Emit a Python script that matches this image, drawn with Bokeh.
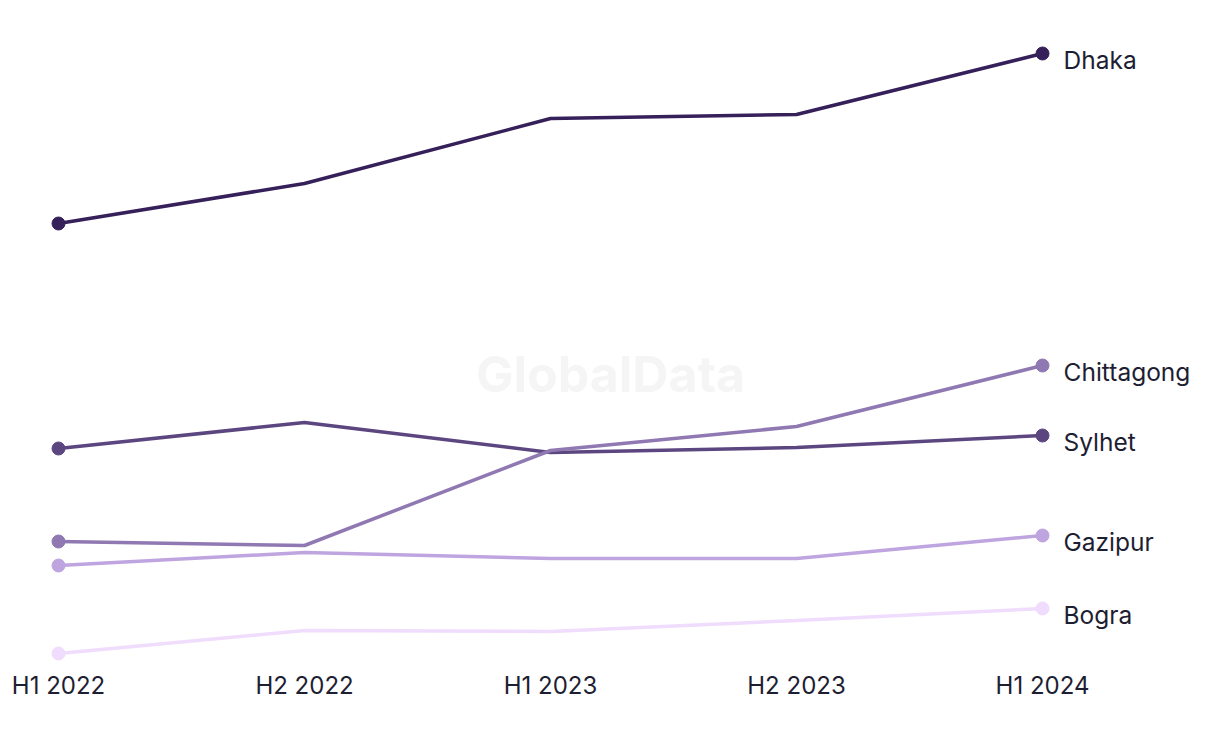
from bokeh.plotting import figure
from bokeh.models import ColumnDataSource, Range1d, Label, FixedTicker
from bokeh.core.properties import value
from bokeh.embed import file_html
from bokeh.resources import INLINE

periods = ["H1 2022", "H2 2022", "H1 2023", "H2 2023", "H1 2024"]
cities = ["Dhaka", "Sylhet", "Chittagong", "Gazipur", "Bogra"]
dhaka = [45.7, 49.7, 56.2, 56.6, 62.7]
sylhet = [23.2, 25.8, 22.8, 23.3, 24.5]
chittagong = [13.9, 13.5, 23.0, 25.4, 31.5]
gazipur = [11.5, 12.8, 12.2, 12.2, 14.5]
bogra = [2.7, 5.0, 4.9, 6.0, 7.2]
series = [dhaka, sylhet, chittagong, gazipur, bogra]
colors = ["#36205a", "#5c4680", "#9078b2", "#bfa5e0", "#f0dcfc"]

FONT = "Inter"
TEXT = "#1e1e32"

xs = list(range(len(periods)))

p = figure(width=1212, height=736, output_backend="svg", toolbar_location=None,
           x_range=Range1d(-0.2033, 4.691), y_range=Range1d(1.5, 67.2),
           min_border_left=8, min_border_right=0, min_border_top=8,
           min_border_bottom=71)
p.outline_line_color = None
p.grid.visible = False
p.yaxis.visible = False
p.background_fill_color = "white"
p.border_fill_color = "white"

ax = p.xaxis[0]
ax.ticker = FixedTicker(ticks=xs)
ax.major_label_overrides = {i: lab for i, lab in enumerate(periods)}
ax.axis_line_color = None
ax.major_tick_line_color = None
ax.minor_tick_line_color = None
ax.major_tick_out = 0
ax.major_tick_in = 0
ax.major_label_standoff = 5
ax.major_label_text_font = FONT
ax.major_label_text_font_size = "24px"
ax.major_label_text_color = TEXT

wm = Label(x=2.244, y=30.7, text="GlobalData", text_font=FONT, text_font_size="50px",
           text_font_style="bold", text_color="#f5f5f5", text_align="center",
           text_baseline="middle")
p.add_layout(wm)

for name, vals, col in zip(cities, series, colors):
    p.line(xs, vals, line_color=col, line_width=3.5)
    p.scatter([xs[0], xs[-1]], [vals[0], vals[-1]], size=13, fill_color=col,
              line_color=col)

lab_src = ColumnDataSource(dict(x=[xs[-1]] * len(cities), y=[s[-1] for s in series],
                                text=cities))
p.text(x="x", y="y", text="text", source=lab_src, x_offset=21, y_offset=6,
       text_font=value(FONT), text_font_size="24.5px", text_color=TEXT,
       text_baseline="middle", text_align="left")

open("out.html", "w").write(file_html(p, INLINE))
